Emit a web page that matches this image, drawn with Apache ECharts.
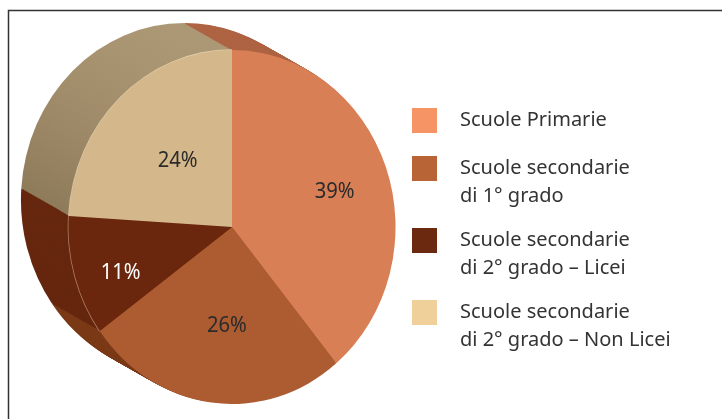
<!DOCTYPE html>
<html>
<head>
<meta charset="utf-8">
<script src="https://cdn.jsdelivr.net/npm/echarts@6/dist/echarts.min.js"></script>
<style>
html,body{margin:0;padding:0;background:#fff;}
#wrap{position:relative;width:722px;height:419px;overflow:hidden;}
#base{position:absolute;left:0;top:0;width:722px;height:419px;}
#pie{position:absolute;left:0;top:0;width:722px;height:419px;
     transform-origin:232px 227px;transform:scale(0.962,1.041);}
</style>
</head>
<body>
<div id="wrap">
  <div id="base"></div>
  <div id="pie"></div>
</div>
<script>
// ---- data ----
var categories = ['Scuole Primarie', 'Scuole secondarie\ndi 1° grado', 'Scuole secondarie\ndi 2° grado – Licei', 'Scuole secondarie\ndi 2° grado – Non Licei'];
var values = [39, 26, 11, 24];
var percentLabels = ['39%', '26%', '11%', '24%'];

// ---- styles ----
var frontColors = ['#D97F55', '#AD5C32', '#6A270E', '#D4B78A'];
var legendColors = ['#F79466', '#B96436', '#6B2A10', '#F0D09A'];
var labelColors = ['#2b2b2b', '#2b2b2b', '#ffffff', '#2b2b2b'];
var edgeColors = ['rgba(0,0,0,0)', 'rgba(0,0,0,0)', 'rgba(235,200,170,0.55)', 'rgba(245,225,195,0.7)'];
// label box paddings / blank lines (style only) to mimic the perspective placement
var labelPads = [[0, 0, 0, 14], [0, 0, 0, 16], [0, 28, 0, 0], [0, 0, 0, 32]];
var labelShift = [0, -1, 1, 1]; // -1: blank line after, 1: blank line before
var FONT = 'Noto Sans';

var base = echarts.init(document.getElementById('base'), null, {renderer: 'canvas'});
var pie = echarts.init(document.getElementById('pie'), null, {renderer: 'svg'});

var frontCenter = [232, 227];
var depth = [-49.4, -26];
var R = 170;
var layers = 36;

function sideColor(i) {
  if (i === 0) return '#AE6443';
  if (i === 1) return '#7B3A17';
  if (i === 2) return '#66270F';
  return new echarts.graphic.LinearGradient(0, 0, 0, 1, [
    {offset: 0, color: '#AD9875'},
    {offset: 1, color: '#8C7958'}
  ]);
}

function pieBase(extra) {
  var o = {
    type: 'pie',
    silent: true,
    startAngle: 90,
    clockwise: true,
    label: {show: false},
    labelLine: {show: false},
    emphasis: {disabled: true},
    itemStyle: {borderWidth: 0}
  };
  for (var k in extra) o[k] = extra[k];
  return o;
}

var series = [];
for (var k = 0; k < layers; k++) {
  var t = 1 - k / layers; // 1 = back face
  series.push(pieBase({
    z: 1,
    radius: R,
    center: [frontCenter[0] + depth[0] * t, frontCenter[1] + depth[1] * t],
    data: categories.map(function (c, i) {
      return {name: c, value: values[i], itemStyle: {color: sideColor(i)}};
    })
  }));
}

// light rim between side and front
series.push(pieBase({
  z: 2,
  radius: [R - 1, R + 0.8],
  center: frontCenter,
  data: categories.map(function (c, i) {
    return {name: c, value: values[i], itemStyle: {color: edgeColors[i]}};
  })
}));

// front face
series.push(pieBase({
  z: 3,
  radius: R,
  center: frontCenter,
  data: categories.map(function (c, i) {
    return {name: c, value: values[i], itemStyle: {color: frontColors[i]}};
  })
}));

// transparent label carrier so inside labels sit further out
series.push(pieBase({
  z: 4,
  radius: 206,
  center: frontCenter,
  itemStyle: {color: 'rgba(0,0,0,0)', borderWidth: 0},
  label: {
    show: true,
    position: 'inside',
    fontFamily: FONT,
    fontSize: 21,
    lineHeight: 24,
    formatter: function (p) {
      var s = labelShift[p.dataIndex];
      var txt = percentLabels[p.dataIndex];
      return s > 0 ? '\n' + txt : (s < 0 ? txt + '\n' : txt);
    }
  },
  data: categories.map(function (c, i) {
    return {name: c, value: values[i], label: {color: labelColors[i], padding: labelPads[i]}};
  })
}));

pie.setOption({animation: false, series: series});

// ---- legend + frame ----
var iconTops = [108, 156, 228, 300];
var legends = categories.map(function (c, i) {
  var twoLine = c.indexOf('\n') >= 0;
  return {
    show: true,
    orient: 'vertical',
    left: 412,
    top: twoLine ? iconTops[i] - 29.5 : iconTops[i] - 1.5,
    padding: 0,
    itemWidth: 25,
    itemHeight: 25,
    icon: 'rect',
    selectedMode: false,
    formatter: function (name) { return twoLine ? '\n' + name : name; },
    textStyle: {
      fontFamily: FONT,
      fontSize: 20,
      lineHeight: 28,
      color: '#333333',
      padding: [0, 0, 0, 18]
    },
    data: [{name: c, itemStyle: {color: legendColors[i]}}]
  };
});

base.setOption({
  animation: false,
  backgroundColor: '#ffffff',
  legend: legends,
  graphic: [{
    type: 'polyline',
    silent: true,
    shape: {points: [[8.5, 419], [8.5, 10.5], [722, 10.5]]},
    style: {stroke: '#333333', lineWidth: 1.5, fill: null}
  }],
  series: [{
    type: 'pie',
    silent: true,
    radius: 0,
    center: [-100, -100],
    label: {show: false},
    labelLine: {show: false},
    data: categories.map(function (c, i) {
      return {name: c, value: values[i], itemStyle: {color: legendColors[i]}};
    })
  }]
});
</script>
</body>
</html>
